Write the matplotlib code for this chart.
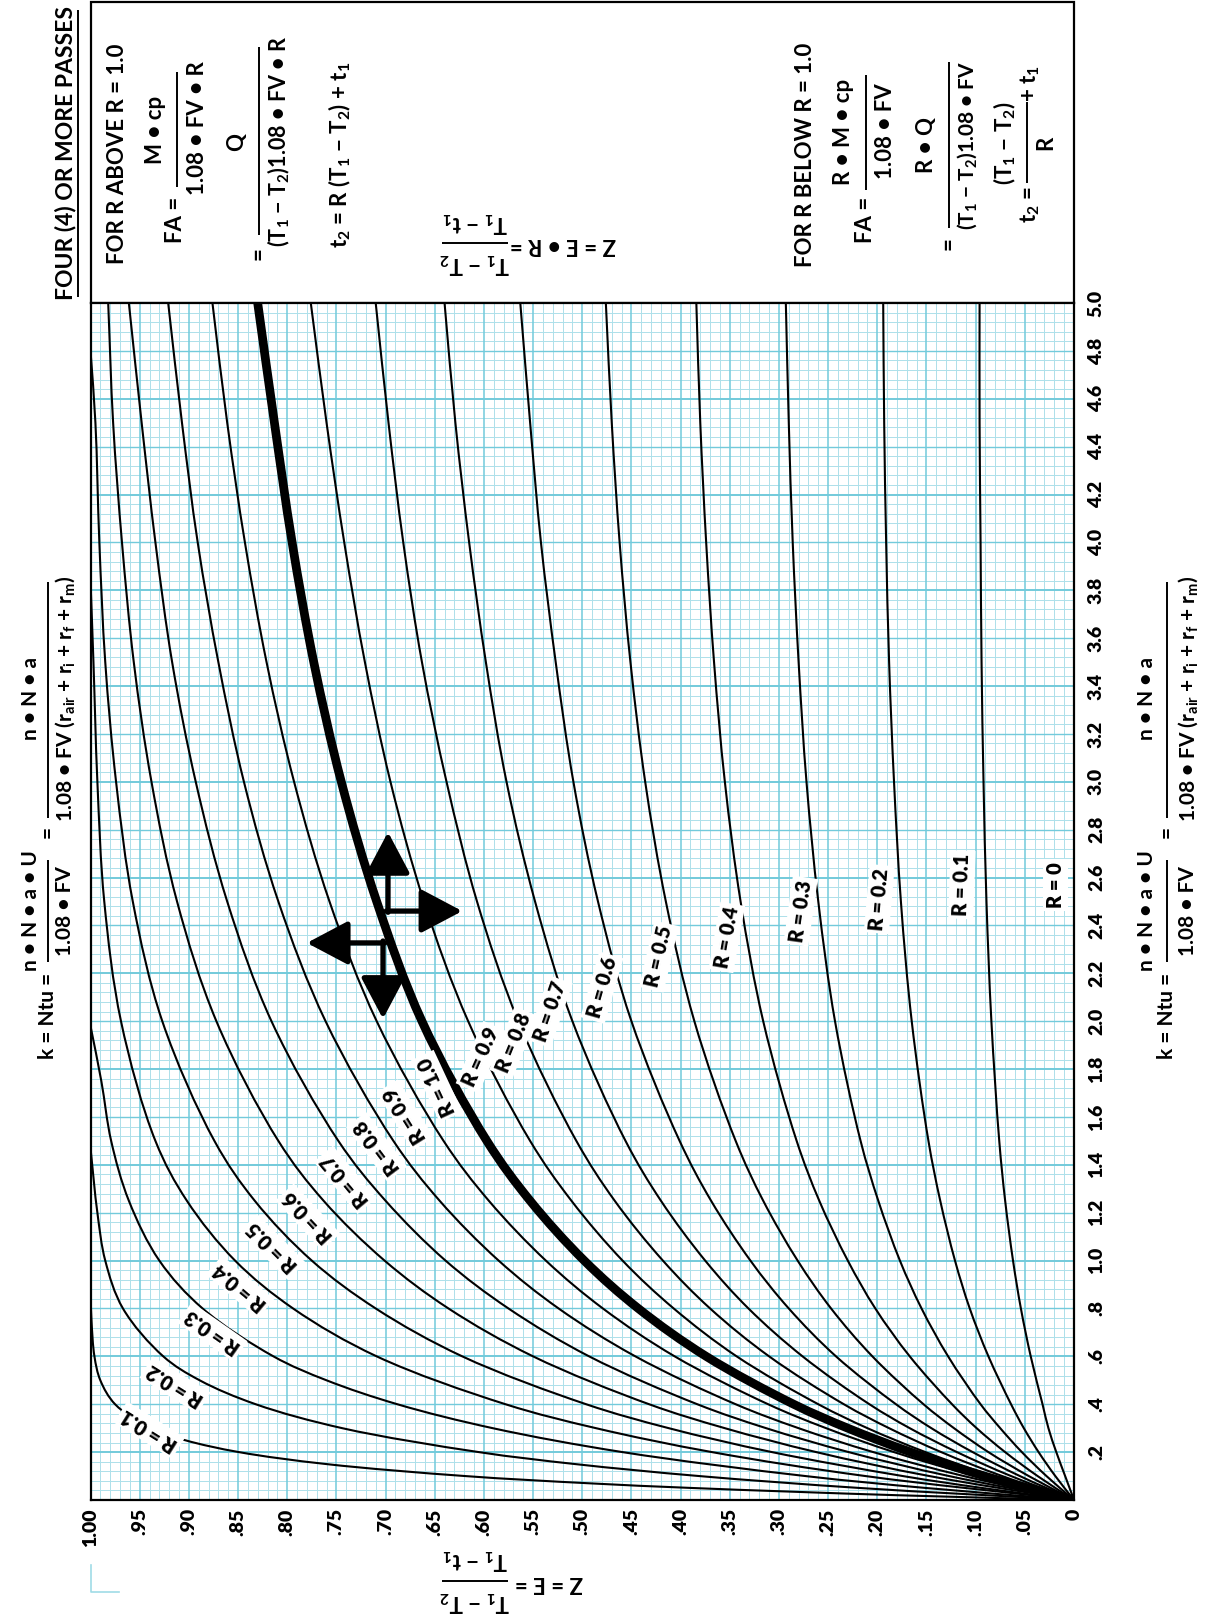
import numpy as np
import matplotlib.pyplot as plt
from matplotlib.patches import Rectangle, PathPatch
from matplotlib.path import Path

plt.rcParams['font.family'] = ['Lato', 'DejaVu Sans']
plt.rcParams['font.weight'] = 'bold'
plt.rcParams['mathtext.fontset'] = 'custom'
plt.rcParams['mathtext.rm'] = 'Lato:bold'
plt.rcParams['mathtext.it'] = 'Lato:bold'
plt.rcParams['mathtext.bf'] = 'Lato:bold'

# ---- values (x = Z, y = k) ----
k_pts = [0, .1, .2, .3, .4, .6, .8, 1.0, 1.25, 1.5, 2.0, 2.5, 3.0, 3.5, 4.0, 4.5, 5.0]

# family "for R below 1.0"
zb_01 = [0, .009, .018, .026, .032, .044, .054, .062, .070, .076, .084, .089, .092, .094, .095, .096, .096]
zb_02 = [0, .019, .036, .051, .064, .087, .106, .121, .136, .148, .165, .176, .183, .188, .191, .193, .194]
zb_03 = [0, .028, .053, .075, .095, .128, .155, .177, .199, .217, .243, .260, .272, .280, .286, .290, .293]
zb_04 = [0, .037, .070, .099, .124, .167, .202, .230, .259, .282, .316, .339, .355, .366, .374, .380, .384]
zb_05 = [0, .046, .087, .122, .153, .205, .247, .281, .316, .344, .386, .415, .436, .451, .462, .470, .476]
zb_06 = [0, .055, .103, .145, .181, .242, .290, .329, .369, .401, .450, .484, .509, .527, .542, .553, .563]
zb_07 = [0, .064, .119, .167, .208, .276, .331, .375, .420, .456, .510, .548, .577, .598, .615, .629, .640]
zb_08 = [0, .073, .135, .188, .234, .310, .370, .418, .467, .506, .565, .607, .638, .663, .682, .697, .710]
zb_09 = [0, .082, .151, .210, .260, .343, .407, .459, .511, .553, .616, .661, .695, .721, .742, .760, .776]
zb_10 = [0, .091, .166, .230, .285, .374, .443, .498, .553, .597, .663, .709, .745, .773, .795, .813, .830]

# family "for R above 1.0" (labels upside down)
za_09 = [0, .100, .183, .252, .311, .406, .479, .537, .595, .641, .709, .757, .793, .821, .843, .861, .876]
za_08 = [0, .112, .204, .280, .344, .446, .524, .585, .645, .692, .761, .809, .844, .870, .891, .907, .921]
za_07 = [0, .127, .229, .313, .383, .493, .575, .639, .700, .748, .816, .861, .893, .917, .934, .948, .961]
za_06 = [0, .147, .262, .355, .432, .550, .636, .701, .763, .809, .872, .912, .938, .956, .968, .977, .982]

ka_05 = [0, .05, .1, .2, .3, .4, .6, .8, 1.0, 1.25, 1.5, 2.0, 2.5, 3.0, 3.5, 4.0, 4.5, 4.8]
za_05 = [0, .093, .174, .307, .412, .496, .622, .710, .775, .833, .874, .927, .957, .974, .985, .991, .995, 1.0]
ka_04 = [0, .1, .2, .3, .4, .6, .8, 1.0, 1.25, 1.5, 2.0, 2.5, 3.0, 3.5, 3.84]
za_04 = [0, .212, .368, .486, .578, .709, .794, .853, .902, .934, .969, .986, .993, .997, 1.0]
ka_03 = [0, .05, .1, .2, .3, .4, .5, .6, .8, 1.0, 1.25, 1.5, 1.75, 1.98]
za_03 = [0, .150, .273, .459, .591, .688, .760, .814, .886, .930, .961, .979, .989, 1.0]
ka_02 = [0, .05, .1, .15, .2, .3, .4, .5, .6, .8, 1.0, 1.2, 1.47]
za_02 = [0, .217, .381, .507, .605, .744, .832, .889, .926, .967, .985, .993, 1.0]
ka_01 = [0, .02, .05, .07, .1, .15, .2, .25, .3, .4, .5, .6, .75, .86]
za_01 = [0, .180, .387, .494, .619, .760, .849, .904, .939, .975, .990, .996, .999, 1.0]

z_ticks = [0, .05, .10, .15, .20, .25, .30, .35, .40, .45, .50, .55, .60, .65, .70, .75, .80, .85, .90, .95, 1.00]
z_tick_labels = ['0', '.05', '.10', '.15', '.20', '.25', '.30', '.35', '.40', '.45', '.50',
                 '.55', '.60', '.65', '.70', '.75', '.80', '.85', '.90', '.95', '1.00']
k_ticks = [.2, .4, .6, .8, 1.0, 1.2, 1.4, 1.6, 1.8, 2.0, 2.2, 2.4, 2.6, 2.8, 3.0,
           3.2, 3.4, 3.6, 3.8, 4.0, 4.2, 4.4, 4.6, 4.8, 5.0]
k_tick_labels = ['.2', '.4', '.6', '.8', '1.0', '1.2', '1.4', '1.6', '1.8', '2.0', '2.2', '2.4',
                 '2.6', '2.8', '3.0', '3.2', '3.4', '3.6', '3.8', '4.0', '4.2', '4.4', '4.6', '4.8', '5.0']

labels_below = ['R = 0', 'R = 0.1', 'R = 0.2', 'R = 0.3', 'R = 0.4',
                'R = 0.5', 'R = 0.6', 'R = 0.7', 'R = 0.8', 'R = 0.9']
labels_above = ['R = 0.1', 'R = 0.2', 'R = 0.3', 'R = 0.4', 'R = 0.5',
                'R = 0.6', 'R = 0.7', 'R = 0.8', 'R = 0.9', 'R = 1.0']

# ---- figure ----
W, H = 1213, 1621
fig = plt.figure(figsize=(W / 100, H / 100), dpi=100)
ax = fig.add_axes([90.5 / W, (H - 1500) / H, 983.5 / W, 1197 / H])
ax.set_zorder(2)
ov = fig.add_axes([0, 0, 1, 1])
ov.set_zorder(1)
ov.set_xlim(0, W)
ov.set_ylim(H, 0)
ov.axis('off')

ax.set_xlim(1, 0)
ax.set_ylim(0, 5)

# graph paper
c_min, c_maj = '#ade0ea', '#72cadb'
for i in range(101):
    z = i / 100
    if i % 5 == 0:
        ax.axvline(z, color=c_maj, lw=1.1, zorder=0.5)
    else:
        ax.axvline(z, color=c_min, lw=0.7, zorder=0.4)
for j in range(126):
    k = j * 0.04
    if j % 10 == 5:
        ax.axhline(k, color=c_maj, lw=1.4, zorder=0.6)
    elif j % 5 == 0:
        ax.axhline(k, color=c_maj, lw=1.0, zorder=0.5)
    else:
        ax.axhline(k, color=c_min, lw=0.7, zorder=0.4)


def smooth(zs, ks):
    # centripetal Catmull-Rom through the read points, drawn as Bezier pieces
    sc = np.array([983.5, 239.4])
    p = np.column_stack([zs, ks]) * sc
    ext = np.vstack([2 * p[0] - p[1], p, 2 * p[-1] - p[-2]])
    verts, codes = [p[0]], [Path.MOVETO]
    for i in range(1, len(ext) - 2):
        p0, p1, p2, p3 = ext[i - 1], ext[i], ext[i + 1], ext[i + 2]
        a = np.linalg.norm(p1 - p0) ** 0.5
        b = np.linalg.norm(p2 - p1) ** 0.5
        c = np.linalg.norm(p3 - p2) ** 0.5
        b1 = (a * a * p2 - b * b * p0 + (2 * a * a + 3 * a * b + b * b) * p1) / (3 * a * (a + b))
        b2 = (c * c * p1 - b * b * p3 + (2 * c * c + 3 * c * b + b * b) * p2) / (3 * c * (c + b))
        verts += [b1, b2, p2]
        codes += [Path.CURVE4] * 3
    return Path(np.array(verts) / sc, codes)


def curve(zs, ks, lw=1.5, z=2):
    ax.add_patch(PathPatch(smooth(zs, ks), fill=False, ec='black', lw=lw, zorder=z,
                           capstyle='butt'))


for zs in [zb_01, zb_02, zb_03, zb_04, zb_05, zb_06, zb_07, zb_08, zb_09]:
    curve(zs, k_pts)
curve(zb_10, k_pts, lw=6.3, z=2.2)
for zs in [za_09, za_08, za_07, za_06]:
    curve(zs, k_pts)
for ks, zs in [(ka_05, za_05), (ka_04, za_04), (ka_03, za_03), (ka_02, za_02), (ka_01, za_01)]:
    curve(zs, ks)

# curve labels
box = dict(boxstyle='square,pad=0.15', fc='white', ec='none')
pos_below = [(.019, 2.57, 90), (.114, 2.57, 88), (.198, 2.51, 85), (.278, 2.46, 82), (.353, 2.35, 80),
             (.422, 2.27, 77), (.480, 2.14, 74), (.533, 2.04, 71), (.570, 1.91, 68), (.603, 1.85, 66)]
for s, (z, k, r) in zip(labels_below, pos_below):
    ax.text(z, k, s, rotation=r, rotation_mode='anchor', ha='center', va='center',
            fontsize=14.5, fontweight='heavy', bbox=box, zorder=3)
pos_above = [(.940, .292, 148), (.914, .480, 148), (.876, .702, 145), (.848, .890, 140), (.815, 1.057, 135),
             (.779, 1.182, 133), (.741, 1.337, 130), (.709, 1.475, 127), (.680, 1.608, 122), (.648, 1.729, 115)]
for s, (z, k, r) in zip(labels_above, pos_above):
    ax.text(z, k, s, rotation=r, rotation_mode='anchor', ha='center', va='center',
            fontsize=14.5, fontweight='heavy', bbox=box, zorder=3)

# direction arrows
arw = dict(arrowstyle='-|>,head_length=0.85,head_width=0.45', color='black', lw=3.8,
           mutation_scale=30, shrinkA=0, shrinkB=0)
ax.annotate('', xy=(.6975, 2.79), xytext=(.6975, 2.455), arrowprops=arw, zorder=4)
ax.annotate('', xy=(.622, 2.46), xytext=(.6995, 2.46), arrowprops=arw, zorder=4)
ax.annotate('', xy=(.780, 2.327), xytext=(.7006, 2.327), arrowprops=arw, zorder=4)
ax.annotate('', xy=(.7026, 2.01), xytext=(.7026, 2.335), arrowprops=arw, zorder=4)

for sp in ax.spines.values():
    sp.set_linewidth(1.6)
ax.set_xticks(z_ticks, z_tick_labels)
ax.yaxis.tick_right()
ax.set_yticks(k_ticks, k_tick_labels)
ax.tick_params(axis='x', length=0, pad=6, labelsize=14, labelrotation=90)
ax.tick_params(axis='y', length=0, pad=10, labelsize=14, labelrotation=90)
for t in ax.get_xticklabels() + ax.get_yticklabels():
    t.set_fontweight('heavy')
for t in ax.get_yticklabels():
    t.set_va('center')
    t.set_ha('left')


# ---- text around the chart (pixel positions) ----
def txt(x, y, s, rot=90, fs=16):
    ov.text(x, y, s, rotation=rot, rotation_mode='anchor', ha='center', va='center',
            fontsize=fs, fontweight='bold')


def vbar(x, y0, y1):
    ov.plot([x, x], [y0, y1], color='black', lw=1.4, solid_capstyle='butt')


def hbar(x0, x1, y):
    ov.plot([x0, x1], [y, y], color='black', lw=1.4, solid_capstyle='butt')


ov.add_patch(Rectangle((90.5, 1.5), 983.5, 301.5, fill=False, lw=1.6, ec='black'))

txt(66, 153, 'FOUR (4) OR MORE PASSES', fs=16.5)
vbar(78, 10, 297)

txt(117, 154, 'FOR R ABOVE R = 1.0')
txt(176, 220, 'FA =')
vbar(177, 72, 187)
txt(155, 130, 'M • cp')
txt(197, 128, '1.08 • FV • R')
txt(259, 254, '=')
vbar(259, 47, 235)
txt(237, 142, 'Q')
txt(279, 142, '(T$_1$ − T$_2$)1.08 • FV • R', fs=15.5)
txt(340, 155, 't$_2$ = R (T$_1$ − T$_2$) + t$_1$')

txt(563, 244, 'Z = E • R =', rot=180)
hbar(442, 508, 243)
txt(475, 263, 'T$_1$ − T$_2$', rot=180)
txt(475, 222, 'T$_1$ − t$_1$', rot=180)

txt(806, 155, 'FOR R BELOW R = 1.0')
txt(865, 220, 'FA =')
vbar(866, 75, 190)
txt(844, 132, 'R • M • cp')
txt(885, 131, '1.08 • FV')
txt(949, 244, '=')
vbar(949, 62, 228)
txt(926, 145, 'R • Q')
txt(967, 145, '(T$_1$ − T$_2$)1.08 • FV', fs=15)
txt(1030, 205, 't$_2$ =')
vbar(1027, 102, 183)
txt(1005, 143, '(T$_1$ − T$_2$)')
txt(1046, 143, 'R')
txt(1030, 84, '+ t$_1$')

txt(549, 1583, 'Z = E =', rot=180)
hbar(442, 508, 1581)
txt(475, 1559, 'T$_1$ − t$_1$', rot=180)
txt(475, 1601, 'T$_1$ − T$_2$', rot=180)
ov.plot([91, 91, 119], [1565, 1592, 1592], color='#9fdbe6', lw=1.2)

for xb, xn, xd in [(48, 31, 65), (1167, 1147, 1188)]:
    txt(xb, 1016, 'k = Ntu =', fs=15)
    vbar(xb, 860, 962)
    txt(xn, 911, 'n • N • a • U', fs=15)
    txt(xd, 911, '1.08 • FV', fs=15)
    txt(xb, 832, '=', fs=15)
    vbar(xb, 582, 818)
    txt(xn, 698, 'n • N • a', fs=15)
    txt(xd, 699, '1.08 • FV (r$_{air}$ + r$_i$ + r$_f$ + r$_m$)', fs=15)

fig.savefig('out.png', dpi=100)
